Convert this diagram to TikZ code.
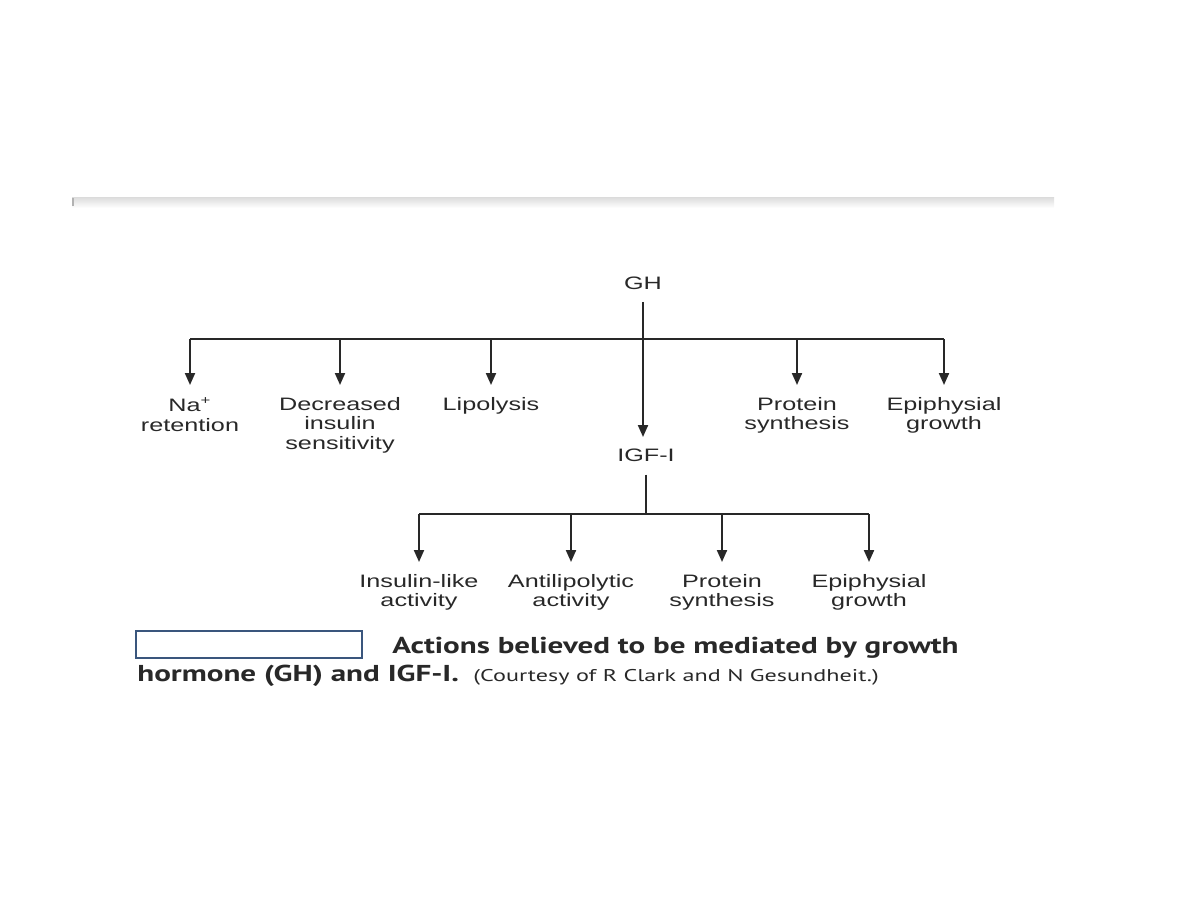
\documentclass[tikz,border=0pt]{standalone}
\usepackage{fontspec}
\usetikzlibrary{positioning,arrows.meta}
\newfontfamily\diafont[FakeStretch=1.4]{Liberation Sans}
\newfontfamily\capfont[FakeStretch=1.35]{PT Sans}
\newfontfamily\creditfont[FakeStretch=1.42]{PT Sans}
\definecolor{boxblue}{RGB}{58,86,125}
\definecolor{inkgray}{RGB}{40,40,40}
\tikzset{
	label/.style={
		font=\diafont\fontsize{9}{9.75}\selectfont,
		text=inkgray,
		align=center,
		inner ysep=6pt,
		inner xsep=1pt,
		anchor=north
	},
	branch/.style={
		draw=inkgray,
		line width=1pt
	}
}
\begin{document}
\begin{tikzpicture}[
		x=0.5pt,
		y=-0.5pt,
		>={Triangle[width=5pt,length=6pt]}
		]
		\useasboundingbox (0,0) rectangle (1188,918);
		
		% strip at the top
		\shade[top color=gray!28, bottom color=white] (72,197) rectangle (1054,208);
		\fill[gray!60] (72,198) rectangle (74,206);
		
		\node (gh) [label, anchor=center] at (643,283) {GH};
		\coordinate (gbar) at (643,339);
		
		\node (na) [label] at (190,385) {Na\textsuperscript{+}\\retention};
		\node (dec) [label] at (340,385) {Decreased\\insulin\\sensitivity};
		\node (lip) [label] at (491,385) {Lipolysis};
		\node (igf) [label] at (646,437) {IGF-I};
		\node (pgh) [label] at (797,385) {Protein\\synthesis};
		\node (egh) [label] at (944,385) {Epiphysial\\growth};
		
		\draw[branch] (na.north |- gbar)--(egh.north |- gbar);
		\draw[branch,->] (gh.south)--(gh.south |- igf.north);
		\draw[branch,->] (na.north |- gbar)--(na.north);
		\draw[branch,->] (dec.north |- gbar)--(dec.north);
		\draw[branch,->] (lip.north |- gbar)--(lip.north);
		\draw[branch,->] (pgh.north |- gbar)--(pgh.north);
		\draw[branch,->] (egh.north |- gbar)--(egh.north);
		
		\coordinate (ibar) at (646,514);
		
		\node (ins) [label] at (419,562) {Insulin-like\\activity};
		\node (anti) [label] at (571,562) {Antilipolytic\\activity};
		\node (pig) [label] at (722,562) {Protein\\synthesis};
		\node (eig) [label] at (869,562) {Epiphysial\\growth};
		
		\draw[branch] (igf.south)--(ibar);
		\draw[branch] (ins.north |- ibar)--(eig.north |- ibar);
		\draw[branch,->] (ins.north |- ibar)--(ins.north);
		\draw[branch,->] (anti.north |- ibar)--(anti.north);
		\draw[branch,->] (pig.north |- ibar)--(pig.north);
		\draw[branch,->] (eig.north |- ibar)--(eig.north);
		
		% caption
		\node (figbox) [draw=boxblue, line width=1pt, anchor=north west,
			minimum width=113pt, minimum height=13.5pt, inner sep=0pt] at (135,630) {};
		\node (cap1) [anchor=base west, inner sep=0pt, text=inkgray,
			font=\capfont\bfseries\fontsize{11.5}{13}\selectfont] at (392,653)
			{Actions believed to be mediated by growth};
		\node (cap2) [anchor=base west, inner sep=0pt, text=inkgray,
			font=\capfont\bfseries\fontsize{11.5}{13}\selectfont] at (137,681)
			{hormone (GH) and IGF-I.};
		\node (credit) [anchor=base west, inner sep=0pt, text=inkgray,
			font=\creditfont\fontsize{8.5}{10}\selectfont] at (473,681)
			{(Courtesy of R Clark and N Gesundheit.)};
		
	\end{tikzpicture}
\end{document}
